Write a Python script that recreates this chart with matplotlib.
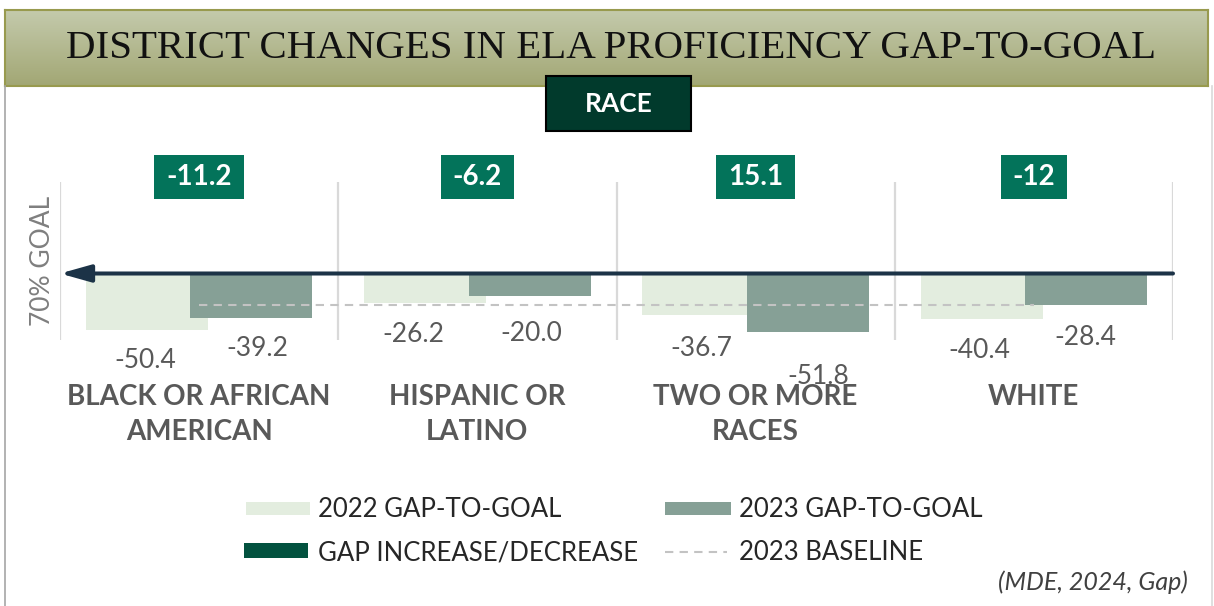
import numpy as np
import matplotlib
matplotlib.use("Agg")
import matplotlib.pyplot as plt
from matplotlib.patches import Rectangle, FancyArrowPatch, ArrowStyle
from matplotlib.lines import Line2D
from matplotlib import transforms

# ---------------- data ----------------
categories = ["BLACK OR AFRICAN\nAMERICAN", "HISPANIC OR\nLATINO",
              "TWO OR MORE\nRACES", "WHITE"]
gap_2022 = [-50.4, -26.2, -36.7, -40.4]
gap_2023 = [-39.2, -20.0, -51.8, -28.4]
gap_change = [-11.2, -6.2, 15.1, -12]
baseline_2023 = -28.4

title = "DISTRICT CHANGES IN ELA PROFICIENCY GAP-TO-GOAL"
subtitle = "RACE"
goal_label = "70% GOAL"
legend_labels = ["2022 GAP-TO-GOAL", "2023 GAP-TO-GOAL",
                 "GAP INCREASE/DECREASE", "2023 BASELINE"]
source = "(MDE, 2024, Gap)"

# ---------------- style ----------------
C22 = "#e3eddf"
C23 = "#86a096"
CBOX = "#03735a"
CRACE = "#013a2c"
CARROW = "#1c3347"
CDARK = "#03523f"
CGRID = "#d9d9d9"
CDASH = "#c3c3c3"
CTXT = "#595959"
SANS = ["Lato", "DejaVu Sans"]

W, H = 1214, 606
fig = plt.figure(figsize=(W / 100, H / 100), dpi=100)
fig.patch.set_facecolor("white")


def fx(x):
    return x / W


def fy(y):
    return 1 - y / H


# ---- outer frame lines ----
fig.add_artist(Line2D([fx(5), fx(5)], [fy(86), 0], color="#a6a6a6", lw=1.2))
fig.add_artist(Line2D([fx(1212), fx(1212)], [fy(86), 0], color="#d9d9d9", lw=1.2))

# ---- banner ----
bax = fig.add_axes([fx(5), fy(86), (1208 - 5) / W, (86 - 10) / H])
grad = np.linspace(0, 1, 100).reshape(-1, 1)
top = np.array([196, 202, 172]) / 255
bot = np.array([162, 167, 116]) / 255
img = top[None, None, :] * (1 - grad[:, :, None]) + bot[None, None, :] * grad[:, :, None]
bax.imshow(img, aspect="auto", extent=[0, 1, 0, 1])
bax.set_xticks([]); bax.set_yticks([])
for s in bax.spines.values():
    s.set_color("#989a4e"); s.set_linewidth(1.5)
fig.text(fx(611), fy(48), title, ha="center", va="center",
         fontsize=29.4, family=["Liberation Serif", "DejaVu Serif"], color="#111111")

# ---- RACE box ----
fig.add_artist(Rectangle((fx(546), fy(131)), (691 - 546) / W, (131 - 76) / H,
                         transform=fig.transFigure, facecolor=CRACE,
                         edgecolor="black", lw=1.5, zorder=10))
fig.text(fx(618.5), fy(104), subtitle, ha="center", va="center", fontsize=19,
         fontweight="bold", family=SANS, color="white", zorder=11)

# ---- main axes ----
x0px, x1px = 60, 1173
ytop, ybot = 182, 340
zero_px, ppu = 273.5, 1.125
ax = fig.add_axes([fx(x0px), fy(ybot), (x1px - x0px) / W, (ybot - ytop) / H])
ax.set_xlim(0, 4)
ax.set_ylim(-(ybot - zero_px) / ppu, (zero_px - ytop) / ppu)
ax.axis("off")

n = len(categories)
xc = np.arange(n) + 0.5
bw = 0.4385
off = 0.188

for g in range(n + 1):
    ax.axvline(g, color=CGRID, lw=1.6, zorder=1)

ax.bar(xc - off, gap_2022, bw, color=C22, zorder=2)
ax.bar(xc + off, gap_2023, bw, color=C23, zorder=3)
ax.plot(xc, [baseline_2023] * n, color=CDASH, lw=1.5, dashes=(4, 3), zorder=4)

arrow = FancyArrowPatch((4, 0), (0, 0), arrowstyle=ArrowStyle("-|>", head_length=18.5, head_width=5.2),
                        mutation_scale=1, color=CARROW, lw=2.9, shrinkA=0, shrinkB=0,
                        zorder=6, clip_on=False)
ax.add_patch(arrow)

# value labels (offsets in px: dx, dy below bar end to baseline)
off22 = [(-2, 38), (-12, 39), (-2, 41), (-2, 39)]
off23 = [(6, 38), (2, 45), (10, 52), (-1, 40)]
for i in range(n):
    for xs, vals, offs in ((xc[i] - off, gap_2022, off22), (xc[i] + off, gap_2023, off23)):
        dx, dy = offs[i]
        ax.annotate(f"{vals[i]:.1f}", (xs, vals[i]), xytext=(dx * 0.72, -dy * 0.72),
                    textcoords="offset points", ha="center", va="baseline",
                    fontsize=19, family=SANS, color=CTXT,
                    annotation_clip=False, zorder=7)

bt = transforms.blended_transform_factory(ax.transData, fig.transFigure)

# category labels
for i, cat in enumerate(categories):
    for j, line in enumerate(cat.split("\n")):
        ax.text(xc[i], fy(405 + 35 * j), line, transform=bt, ha="center",
                va="baseline", fontsize=20, fontweight="bold", family=SANS,
                color=CTXT, zorder=6, clip_on=False)

# change boxes
renderer = fig.canvas.get_renderer()
for i in range(n):
    t = ax.text(xc[i], fy(177), f"{gap_change[i]:g}", transform=bt, ha="center",
                va="center", fontsize=20, fontweight="bold", family=SANS,
                color="white", zorder=9, clip_on=False)
    bb = t.get_window_extent(renderer)
    wbox = bb.width + 24
    cxp = (bb.x0 + bb.x1) / 2
    rect = Rectangle(((cxp - wbox / 2) / W, fy(199)), wbox / W, 44 / H,
                     transform=fig.transFigure, facecolor=CBOX,
                     edgecolor="none", zorder=8, clip_on=False)
    ax.add_artist(rect)

# 70% goal
fig.text(fx(42), fy(261), goal_label, rotation=90, ha="center", va="center",
         fontsize=19, family=SANS, color="#7f7f7f")

# ---- legend ----
fig.add_artist(Rectangle((fx(246), fy(515)), 64 / W, 13 / H, transform=fig.transFigure,
                         facecolor=C22, edgecolor="none"))
fig.add_artist(Rectangle((fx(665), fy(515)), 66 / W, 13 / H, transform=fig.transFigure,
                         facecolor=C23, edgecolor="none"))
fig.add_artist(Rectangle((fx(244), fy(558)), 64 / W, 15 / H, transform=fig.transFigure,
                         facecolor=CDARK, edgecolor="none"))
fig.add_artist(Line2D([fx(665), fx(727)], [fy(552), fy(552)], color=CDASH, lw=1.5,
                      dashes=(4, 3)))
leg_pos = [(318, 517), (739, 517), (318, 560), (739, 560)]
for (lx, ly), lab in zip(leg_pos, legend_labels):
    fig.text(fx(lx), fy(ly), lab, ha="left", va="baseline", fontsize=18.5,
             family=SANS, color="#262626")

fig.text(fx(1188), fy(590), source, ha="right", va="baseline", fontsize=18,
         style="italic", family=SANS, color="#404040")

fig.savefig("out.png", dpi=100)
